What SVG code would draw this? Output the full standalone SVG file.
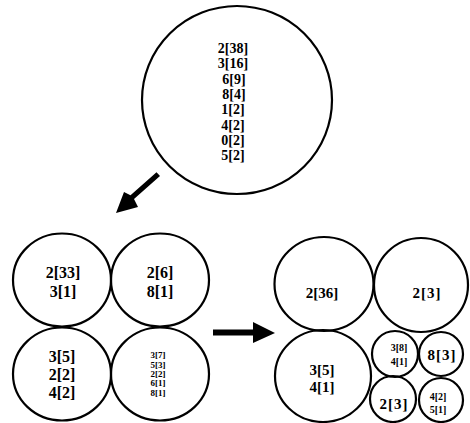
<svg xmlns="http://www.w3.org/2000/svg" width="470" height="423" viewBox="0 0 470 423">
<style>
.c{fill:none;stroke:#000;stroke-width:2.2}
text{font-family:"Liberation Serif","Times New Roman",serif;font-weight:bold;text-anchor:middle;fill:#000}
.t14{font-size:14px}
.t16{font-size:16px}
.t15{font-size:15px}
.t10{font-size:10px}
.t9{font-size:9px}
.a{fill:#000;stroke:none}
</style>
<rect width="470" height="423" fill="#fff"/>
<g id="root">
<ellipse class="c" cx="237" cy="100" rx="95" ry="94"/>
<text class="t14" x="233" y="53">2[38]</text>
<text class="t14" x="233" y="68">3[16]</text>
<text class="t14" x="234" y="84">6[9]</text>
<text class="t14" x="234" y="99">8[4]</text>
<text class="t14" x="233" y="114">1[2]</text>
<text class="t14" x="233" y="130">4[2]</text>
<text class="t14" x="233" y="145">0[2]</text>
<text class="t14" x="233" y="160">5[2]</text>
</g>
<g id="split-tl">
<ellipse class="c" cx="62" cy="280" rx="49" ry="46.5"/>
<text class="t16" x="63" y="278">2[33]</text>
<text class="t16" x="63" y="297">3[1]</text>
</g>
<g id="split-tr">
<ellipse class="c" cx="160" cy="280" rx="49" ry="46.5"/>
<text class="t16" x="160" y="278">2[6]</text>
<text class="t16" x="160" y="297">8[1]</text>
</g>
<g id="split-bl">
<ellipse class="c" cx="62" cy="374" rx="49" ry="46.5"/>
<text class="t16" x="62" y="362">3[5]</text>
<text class="t16" x="62" y="380">2[2]</text>
<text class="t16" x="62" y="398">4[2]</text>
</g>
<g id="split-br">
<ellipse class="c" cx="160" cy="374" rx="49" ry="46.5"/>
<text class="t9" x="158" y="358">3[7]</text>
<text class="t9" x="158" y="368">5[3]</text>
<text class="t9" x="158" y="377">2[2]</text>
<text class="t9" x="158" y="386">6[1]</text>
<text class="t9" x="158" y="396">8[1]</text>
</g>
<g id="merge-a">
<ellipse class="c" cx="324" cy="284" rx="49.5" ry="47"/>
<text class="t15" x="322" y="298">2[36]</text>
</g>
<g id="merge-b">
<ellipse class="c" cx="421" cy="285" rx="47" ry="47"/>
<text class="t15" x="427" y="298" letter-spacing="1">2[3]</text>
</g>
<g id="merge-c">
<ellipse class="c" cx="323" cy="376" rx="48" ry="46"/>
<text class="t15" x="322" y="375">3[5]</text>
<text class="t15" x="322" y="392">4[1]</text>
</g>
<g id="merge-d">
<circle class="c" cx="395" cy="354" r="23"/>
<text class="t10" x="399" y="351">3[8]</text>
<text class="t10" x="399" y="365">4[1]</text>
</g>
<g id="merge-e">
<circle class="c" cx="441" cy="354" r="22"/>
<text class="t15" x="442" y="360" letter-spacing="1">8[3]</text>
</g>
<g id="merge-f">
<circle class="c" cx="393" cy="399" r="23"/>
<text class="t15" x="394" y="409" letter-spacing="1">2[3]</text>
</g>
<g id="merge-g">
<circle class="c" cx="441" cy="400" r="22"/>
<text class="t10" x="438" y="400">4[2]</text>
<text class="t10" x="438" y="413">5[1]</text>
</g>
<g id="connectors">
<path class="a" d="M156.5,172.2 L160,176 L134,199 L138,207 L116,213 L124,192 L130.5,195.2 Z"/>
<path class="a" d="M213,329.5 L253,329.5 L253,322 L275,333 L253,343 L253,335.5 L213,335.5 Z"/>
</g>
</svg>
